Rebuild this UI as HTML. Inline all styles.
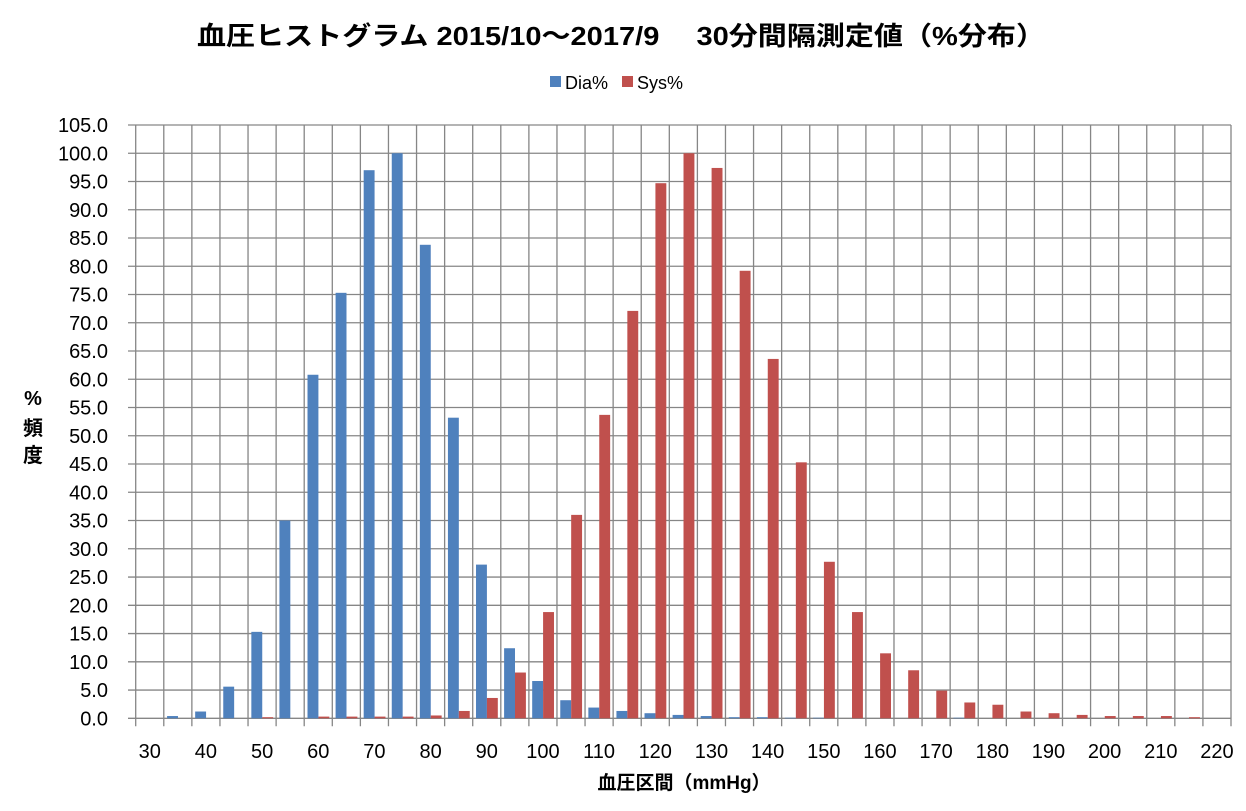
<!DOCTYPE html>
<html><head><meta charset="utf-8"><style>
html,body{margin:0;padding:0;background:#fff;}
svg{display:block;font-family:"Liberation Sans","Noto Sans CJK JP",sans-serif;}
</style></head><body>
<svg id="c" width="1246" height="811" viewBox="0 0 1246 811" xmlns="http://www.w3.org/2000/svg">
<rect width="1246" height="811" fill="#fff"/>
<text x="197" y="45" font-size="26" font-weight="bold" textLength="848" lengthAdjust="spacingAndGlyphs">血圧ヒストグラム  2015/10～2017/9　 30分間隔測定値（%分布）</text>
<rect x="550" y="76" width="11" height="11" fill="#4F81BD"/>
<text x="565" y="89" font-size="18">Dia%</text>
<rect x="622" y="76" width="11" height="11" fill="#C0504D"/>
<text x="637" y="89" font-size="18">Sys%</text>
<text x="33" y="405" font-size="20" font-weight="bold" text-anchor="middle">%</text>
<text x="33" y="435" font-size="20" font-weight="bold" text-anchor="middle">頻</text>
<text x="33" y="462" font-size="20" font-weight="bold" text-anchor="middle">度</text>
<text x="684" y="789" font-size="19" font-weight="bold" text-anchor="middle">血圧区間（mmHg）</text>
<g id="g"></g>
</svg>
<script>
var g=document.getElementById('g'),s='';
var L=135.7,R=1231,T=125,B=718.3,n=39,cw=(R-L)/n,yh=(B-T)/105;
function Y(v){return B-v*yh;}
for(var i=0;i<=21;i++){var y=Y(i*5);s+='<line x1="128" x2="'+R+'" y1="'+y+'" y2="'+y+'" stroke="#868686" stroke-width="1.3"/>';
s+='<text x="108" y="'+(y+7)+'" font-size="20" text-anchor="end">'+(i*5).toFixed(1)+'</text>';}
for(var i=0;i<=n;i++){var x=L+i*cw;s+='<line x1="'+x+'" x2="'+x+'" y1="'+T+'" y2="'+(B+8)+'" stroke="#868686" stroke-width="1.3"/>';}
var dia=[0,0.4,1.2,5.6,15.3,35,60.8,75.3,97,100,83.8,53.2,27.2,12.4,6.6,3.2,1.9,1.3,0.9,0.6,0.4,0.2,0.2,0.1,0.1,0,0,0,0,0.1,0,0,0,0,0,0,0,0,0];
var sys=[0,0,0,0,0.2,0,0.3,0.3,0.3,0.3,0.5,1.3,3.6,8.1,18.8,36,53.7,72.1,94.7,100,97.4,79.2,63.6,45.3,27.7,18.8,11.5,8.5,4.9,2.8,2.4,1.2,0.9,0.6,0.4,0.4,0.4,0.2,0];
for(var i=0;i<n;i++){var x=L+i*cw+3.3;
if(dia[i]>0)s+='<rect x="'+x+'" y="'+Y(dia[i])+'" width="10.9" height="'+(dia[i]*yh)+'" fill="#4F81BD"/>';
if(sys[i]>0)s+='<rect x="'+(x+10.9)+'" y="'+Y(sys[i])+'" width="10.9" height="'+(sys[i]*yh)+'" fill="#C0504D"/>';
if(i%2==0)s+='<text x="'+(L+(i+0.5)*cw)+'" y="758" font-size="20" text-anchor="middle">'+(30+i*5)+'</text>';}
g.innerHTML=s;
</script>
</body></html>
